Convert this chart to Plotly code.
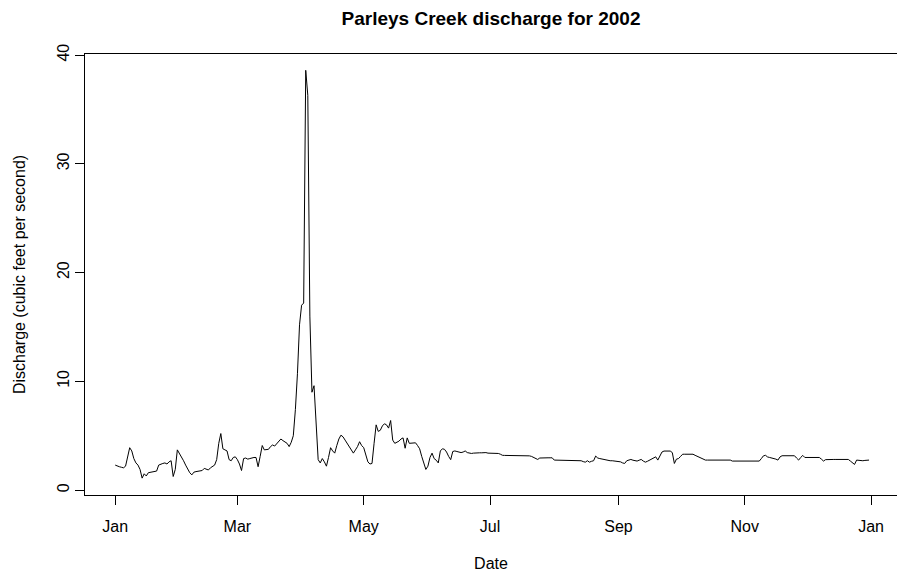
import pandas as pd
import plotly.graph_objects as go

# Daily mean discharge, Parleys Creek, 2002 (cubic feet per second), one list per month
jan = [2.3, 2.2, 2.15, 2.1, 2.05, 2.2, 3.2, 3.9, 3.6, 2.9, 2.5, 2.3, 1.9, 1.1, 1.5, 1.3,
       1.6, 1.65, 1.7, 1.72, 1.75, 2.3, 2.4, 2.45, 2.5, 2.4, 2.6, 2.7, 1.25, 1.9, 3.7]
feb = [3.4, 3.1, 2.7, 2.3, 1.95, 1.6, 1.4, 1.65, 1.7, 1.75, 1.78, 1.8, 2.0, 1.95, 1.85,
       2.05, 2.15, 2.3, 2.8, 4.3, 5.2, 3.8, 3.7, 3.6, 2.8, 2.7, 3.0, 3.06]
mar = [2.8, 2.4, 1.8, 2.9, 2.95, 2.85, 2.9, 2.97, 3.0, 3.0, 2.15, 3.1, 4.1, 3.7, 3.72,
       3.75, 4.0, 4.15, 4.05, 4.3, 4.45, 4.7, 4.55, 4.45, 4.3, 4.0, 4.4, 5.0, 7.4, 10.7, 15.2]
apr = [17.0, 17.2, 38.6, 36.3, 16.0, 9.0, 9.6, 6.0, 2.8, 2.5, 2.9, 2.6, 2.2, 3.0, 3.9,
       3.6, 3.4, 4.1, 4.7, 5.05, 4.9, 4.6, 4.3, 4.0, 3.7, 3.4, 3.7, 4.0, 4.45, 4.1]
may = [3.9, 3.3, 2.6, 2.4, 2.45, 4.3, 6.0, 5.4, 5.5, 5.9, 6.1, 6.0, 5.7, 6.4, 4.6, 4.3,
       4.4, 4.5, 4.7, 4.8, 3.85, 4.8, 4.3, 4.3, 4.3, 4.35, 4.1, 3.8, 3.1, 2.5, 1.9]
jun = [2.2, 3.0, 3.4, 2.9, 2.75, 2.5, 3.6, 3.8, 3.75, 3.5, 3.1, 2.8, 3.55, 3.6, 3.55,
       3.5, 3.45, 3.5, 3.6, 3.45, 3.4, 3.37, 3.4, 3.43, 3.43, 3.43, 3.43, 3.45, 3.45, 3.4]
jul = [3.4, 3.4, 3.38, 3.37, 3.37, 3.3, 3.2, 3.19, 3.19, 3.19, 3.19, 3.19, 3.18, 3.18,
       3.18, 3.18, 3.17, 3.17, 3.17, 3.15, 3.1, 3.0, 2.9, 2.82, 2.95, 2.97, 2.97, 2.97,
       2.97, 2.97, 2.97]
aug = [2.76, 2.76, 2.76, 2.76, 2.76, 2.76, 2.76, 2.76, 2.76, 2.76, 2.76, 2.76, 2.76,
       2.7, 2.62, 2.57, 2.7, 2.57, 2.65, 2.7, 3.13, 2.95, 2.9, 2.85, 2.8, 2.75, 2.7,
       2.7, 2.7, 2.68, 2.67]
sep = [2.67, 2.6, 2.5, 2.45, 2.7, 2.78, 2.82, 2.75, 2.7, 2.67, 2.75, 2.82, 2.67, 2.57,
       2.65, 2.75, 2.82, 2.95, 3.06, 2.76, 3.2, 3.5, 3.59, 3.59, 3.59, 3.59, 3.45, 2.45,
       2.85, 2.9]
oct = [3.1, 3.3, 3.3, 3.3, 3.3, 3.3, 3.3, 3.2, 3.1, 3.05, 2.9, 2.8, 2.76, 2.76, 2.76,
       2.76, 2.76, 2.76, 2.76, 2.76, 2.76, 2.76, 2.76, 2.76, 2.76, 2.67, 2.67, 2.67,
       2.67, 2.67, 2.67]
nov = [2.67, 2.67, 2.67, 2.67, 2.67, 2.67, 2.67, 2.67, 2.9, 3.15, 3.2, 3.05, 3.0, 2.97,
       2.94, 2.85, 2.76, 3.05, 3.16, 3.16, 3.16, 3.16, 3.16, 3.16, 3.16, 2.95, 2.76,
       3.0, 3.19, 3.0]
dec = [3.0, 3.0, 3.0, 3.0, 3.0, 3.0, 3.0, 2.85, 2.67, 2.8, 2.82, 2.82, 2.82, 2.82, 2.82,
       2.82, 2.82, 2.82, 2.82, 2.82, 2.82, 2.67, 2.55, 2.36, 2.76, 2.72, 2.7, 2.7, 2.73,
       2.76, 2.76]

tick_dates = ["2002-01-01", "2002-03-01", "2002-05-01", "2002-07-01",
              "2002-09-01", "2002-11-01", "2003-01-01"]
tick_labels = ["Jan", "Mar", "May", "Jul", "Sep", "Nov", "Jan"]
y_ticks = [0, 10, 20, 30, 40]

flow = jan + feb + mar + apr + may + jun + jul + aug + sep + oct + nov + dec
dates = pd.date_range("2002-01-01", periods=len(flow), freq="D")

FONT = "Liberation Sans, Arial, sans-serif"

fig = go.Figure(
    go.Scatter(x=dates, y=flow, mode="lines",
               line=dict(color="#000000", width=1), hoverinfo="x+y")
)

fig.update_layout(
    width=897, height=577,
    margin=dict(l=85, r=0, t=54, b=82),
    paper_bgcolor="white", plot_bgcolor="white",
    showlegend=False,
    font=dict(family=FONT, size=16, color="#000000"),
    title=dict(text="Parleys Creek discharge for 2002",
               font=dict(family=FONT, size=19, color="#000000", weight="bold"),
               x=0.5, xref="paper", xanchor="center",
               y=1 - 18 / 577, yref="container", yanchor="middle"),
)

fig.update_xaxes(
    range=["2001-12-17 10:00", "2003-01-13 12:00"],
    tickmode="array", tickvals=tick_dates, ticktext=tick_labels,
    ticks="outside", ticklen=9, tickwidth=1, tickcolor="#000000",
    ticklabelstandoff=8,
    showline=True, linecolor="#000000", linewidth=1, mirror=True,
    showgrid=False, zeroline=False,
    tickfont=dict(family=FONT, size=16, color="#000000"),
    title=dict(text="Date", standoff=23,
               font=dict(family=FONT, size=16, color="#000000")),
)

fig.update_yaxes(
    range=[-0.45, 40.1],
    tickmode="array", tickvals=y_ticks, ticktext=[str(v) for v in y_ticks],
    tickangle=-90,
    ticks="outside", ticklen=9, tickwidth=1, tickcolor="#000000",
    showline=True, linecolor="#000000", linewidth=1,
    showgrid=False, zeroline=False,
    tickfont=dict(family=FONT, size=16, color="#000000"),
    title=dict(text="Discharge (cubic feet per second)", standoff=24,
               font=dict(family=FONT, size=16, color="#000000")),
)

fig.write_html("out.html", config={"displayModeBar": False})
